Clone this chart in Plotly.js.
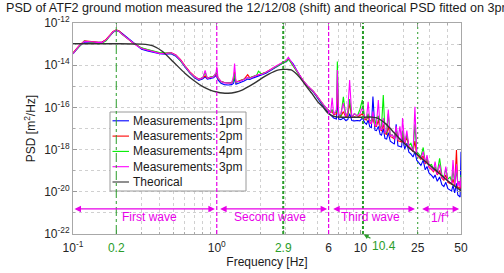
<!DOCTYPE html>
<html>
<head>
<meta charset="utf-8">
<script src="https://cdn.plot.ly/plotly-3.0.1.min.js"></script>
<style>html,body{margin:0;padding:0;background:#fff;}#chart{width:504px;height:273px;}</style>
</head>
<body>
<div id="chart"></div>
<script>
// Frequencies (Hz) shared by the four measurement series
const freqHz = [0.10,0.11,0.12,0.13,0.14,0.15,0.16,0.17,0.18,0.19,
0.20,0.21,0.22,0.24,0.26,0.28,0.30,0.33,0.36,0.40,
0.44,0.48,0.52,0.56,0.60,0.65,0.70,0.75,0.80,0.83,
0.86,0.90,0.95,0.99,1.00,1.02,1.07,1.13,1.20,1.27,
1.31,1.33,1.36,1.45,1.55,1.64,1.70,1.80,1.90,1.95,
2.05,2.20,2.35,2.50,2.65,2.80,2.95,3.05,3.15,3.25,
3.40,3.60,3.80,4.00,4.30,4.70,5.00,5.30,5.60,5.90,
6.20,6.35,6.50,6.80,6.90,7.05,7.30,7.60,7.90,8.15,
8.40,8.70,9.10,9.50,9.90,10.3,10.7,11.0,11.3,11.6,
11.9,12.2,12.6,12.9,13.3,13.7,14.0,14.4,14.8,15.2,
15.6,16.1,16.6,17.2,17.7,18.2,18.8,19.3,19.6,20.3,
21.0,21.7,22.4,23.2,23.9,24.6,25.4,26.3,27.3,28.2,
29.0,30.0,31.2,32.2,33.0,34.2,35.5,36.8,38.0,39.2,
40.5,42.0,43.0,44.0,45.2,46.5,47.5,48.5,49.3,50.0];

// log10 of PSD [m^2/Hz]
const psd1pmLog = [-13.46,-13.12,-12.90,-12.92,-12.92,-12.92,-12.90,-12.80,-12.62,-12.44,
-12.36,-12.40,-12.50,-12.72,-12.90,-13.10,-13.24,-13.32,-13.38,-13.46,
-13.48,-13.46,-13.58,-13.80,-14.08,-14.38,-14.60,-14.72,-14.64,-14.55,
-14.66,-14.62,-14.60,-14.48,-14.55,-14.70,-14.86,-14.92,-14.94,-14.92,
-14.85,-14.60,-14.90,-14.84,-14.75,-14.66,-14.68,-14.60,-14.54,-14.50,
-14.48,-14.38,-14.26,-14.14,-14.04,-13.96,-13.86,-13.84,-13.72,-13.78,
-13.94,-14.24,-14.50,-14.76,-15.02,-15.28,-15.54,-15.80,-16.02,-16.20,
-16.38,-16.45,-16.50,-16.55,-15.60,-16.55,-16.58,-16.50,-16.62,-16.58,
-16.30,-16.62,-16.64,-16.62,-16.64,-16.50,-16.72,-16.80,-16.60,-16.92,
-16.96,-15.49,-17.08,-17.10,-16.90,-17.28,-17.32,-17.00,-17.48,-17.50,
-17.20,-17.60,-17.66,-17.74,-16.80,-17.82,-17.85,-17.88,-17.40,-17.98,
-17.70,-18.12,-18.20,-18.35,-18.10,-18.50,-18.62,-18.75,-18.50,-18.96,
-18.80,-19.12,-19.22,-19.34,-19.20,-19.50,-19.30,-19.66,-19.75,-19.55,
-19.85,-19.92,-19.96,-19.70,-20.05,-19.60,-20.15,-20.20,-20.25,-18.10];

const psd2pmLog = [-13.42,-13.08,-12.84,-12.85,-12.89,-12.92,-12.90,-12.78,-12.58,-12.40,
-12.32,-12.38,-12.53,-12.76,-12.94,-13.07,-13.19,-13.27,-13.34,-13.42,
-13.44,-13.40,-13.52,-13.74,-14.02,-14.32,-14.52,-14.66,-14.60,-14.50,
-14.62,-14.56,-14.54,-14.42,-14.45,-14.60,-14.76,-14.82,-14.84,-14.83,
-14.68,-14.30,-14.80,-14.74,-14.66,-14.45,-14.60,-14.54,-14.48,-14.45,
-14.43,-14.33,-14.22,-14.10,-14.00,-13.92,-13.84,-13.80,-13.68,-13.82,
-13.96,-14.26,-14.50,-14.74,-15.00,-15.24,-15.48,-15.74,-15.94,-16.10,
-16.24,-16.20,-16.34,-16.30,-15.00,-16.40,-16.42,-16.20,-16.46,-16.40,
-15.80,-16.48,-16.45,-16.48,-16.40,-16.30,-16.56,-16.60,-16.40,-16.72,
-16.76,-16.50,-16.88,-16.90,-16.60,-17.06,-17.10,-16.80,-17.24,-17.28,
-16.90,-17.38,-17.42,-17.50,-17.10,-17.58,-17.60,-17.64,-17.20,-17.74,
-17.40,-17.88,-17.96,-18.10,-17.60,-18.24,-18.35,-18.46,-18.30,-18.68,
-18.50,-18.85,-18.95,-19.05,-18.90,-19.20,-19.00,-19.36,-19.45,-19.20,
-19.55,-19.60,-19.64,-19.40,-19.70,-18.02,-19.78,-19.80,-19.85,-19.50];

const psd4pmLog = [-13.44,-13.12,-12.86,-12.90,-12.95,-12.98,-12.95,-12.84,-12.62,-12.43,
-12.34,-12.40,-12.55,-12.76,-12.92,-13.06,-13.18,-13.26,-13.33,-13.40,
-13.43,-13.42,-13.54,-13.78,-14.05,-14.36,-14.56,-14.68,-14.58,-14.35,
-14.60,-14.57,-14.53,-14.38,-14.30,-14.62,-14.78,-14.82,-14.84,-14.84,
-14.72,-14.40,-14.82,-14.74,-14.67,-14.60,-14.60,-14.52,-14.46,-14.28,
-14.42,-14.34,-14.22,-14.12,-14.02,-13.94,-13.85,-13.82,-13.70,-13.84,
-13.98,-14.28,-14.52,-14.76,-15.00,-15.24,-15.50,-15.74,-15.94,-16.10,
-16.22,-16.10,-16.30,-16.20,-13.83,-16.35,-16.40,-15.50,-16.42,-16.30,
-15.60,-16.46,-16.30,-16.42,-16.10,-15.65,-16.50,-16.55,-16.30,-16.66,
-16.60,-16.40,-16.84,-16.50,-16.40,-17.00,-16.90,-15.41,-17.18,-17.20,
-16.30,-17.32,-17.30,-17.45,-17.00,-17.50,-17.50,-17.56,-17.10,-17.66,
-17.30,-17.80,-17.70,-18.02,-16.80,-18.15,-18.20,-18.35,-17.90,-18.60,
-18.40,-18.75,-18.70,-18.95,-18.80,-19.08,-18.41,-19.20,-19.30,-18.90,
-19.40,-19.30,-19.50,-19.00,-19.55,-19.00,-19.60,-19.50,-19.70,-19.20];

const psd3pmLog = [-13.45,-13.10,-12.87,-12.87,-12.90,-12.93,-12.92,-12.80,-12.60,-12.42,
-12.33,-12.41,-12.54,-12.75,-12.94,-13.09,-13.21,-13.28,-13.36,-13.44,
-13.45,-13.41,-13.53,-13.76,-14.04,-14.34,-14.55,-14.67,-14.60,-14.25,
-14.62,-14.58,-14.55,-14.35,-14.07,-14.60,-14.77,-14.84,-14.86,-14.85,
-14.50,-13.92,-14.80,-14.76,-14.68,-14.58,-14.62,-14.55,-14.50,-14.44,
-14.44,-14.34,-14.23,-14.10,-14.00,-13.90,-13.82,-13.76,-13.62,-13.78,
-13.94,-14.25,-14.50,-14.74,-14.98,-15.24,-15.48,-15.72,-15.92,-16.10,
-16.24,-15.55,-16.34,-16.10,-14.23,-16.38,-16.30,-15.80,-16.44,-16.20,
-14.70,-16.45,-16.30,-16.40,-16.30,-16.00,-16.52,-16.50,-15.73,-16.70,
-16.75,-16.20,-16.86,-16.85,-15.65,-17.05,-17.05,-16.50,-17.22,-17.10,
-16.10,-17.36,-17.30,-17.48,-16.90,-17.55,-16.90,-17.60,-16.50,-17.72,
-17.10,-17.86,-17.90,-18.08,-15.97,-18.22,-18.30,-18.40,-18.10,-18.65,
-18.26,-18.82,-18.90,-19.02,-18.57,-19.18,-18.70,-19.30,-19.40,-18.80,
-19.50,-19.55,-19.60,-18.50,-19.65,-18.70,-19.72,-19.50,-19.80,-19.30];

// Theoretical PSD fitted on 3pm
const theoFreqHz = [0.1,0.2,0.3,0.36,0.42,0.5,0.6,0.7,0.8,0.9,1.0,1.1,1.2,1.35,1.5,1.7,1.9,2.1,2.3,2.5,2.7,2.9,3.1,3.3,3.5,3.8,4.2,4.6,5.0,5.5,6.0,6.5,7.0,8.0,9.0,10.0,11.0,12.0,13.0,14.0,15.0,16.0,17.0,18.5,20.0,22.0,24.5,27.0,30.0,33.0,36.0,40.0,45.0,50.0];
const theoPsdLog = [-12.98,-12.98,-13.00,-13.08,-13.35,-13.85,-14.38,-14.75,-15.02,-15.18,-15.27,-15.32,-15.33,-15.28,-15.18,-14.98,-14.78,-14.58,-14.42,-14.30,-14.22,-14.20,-14.20,-14.22,-14.35,-14.60,-15.00,-15.35,-15.70,-16.00,-16.30,-16.42,-16.46,-16.47,-16.47,-16.47,-16.46,-16.46,-16.50,-16.62,-16.78,-16.98,-17.18,-17.45,-17.68,-17.95,-18.20,-18.45,-18.72,-18.95,-19.18,-19.45,-19.72,-19.95];

const seriesNames = ['Measurements: 1pm','Measurements: 2pm','Measurements: 4pm','Measurements: 3pm','Theorical'];
const seriesColors = ['#0000ff','#ff0000','#00ee00','#ff00ff','#333333'];

// Boundaries and annotations
const greenLinesHz = [0.2, 2.9, 10.4, 25];
const magentaLinesHz = [1, 6];
const waveStartHz = [0.1, 1.03, 6.3, 26.2];
const waveEndHz = [0.97, 5.86, 23.9, 48.5];
const waveLabelHz = [0.343, 2.345, 11.8, 35.6];
const waveLabels = ['First wave','Second wave','Third wave','1/f<sup>4</sup>'];
const waveArrowPsd = 1.55e-21;
const waveLabelPsd = 6.6e-22;

const xTickVals = [0.1, 0.2, 1, 2.9, 6, 10, 25, 50];
const xTickText = ['10<sup>-1</sup>','<span style="color:#2a9d2a">0.2</span>','10<sup>0</sup>','<span style="color:#2a9d2a">2.9</span>','6','10','25','50'];
const yTickExp = [-22,-20,-18,-16,-14,-12];

const toLin = a => a.map(v => Math.pow(10, v));
const measLogs = [psd1pmLog, psd2pmLog, psd4pmLog, psd3pmLog];

const traces = measLogs.map((arr, i) => ({
  x: freqHz, y: toLin(arr), type: 'scatter', mode: 'lines', name: seriesNames[i],
  line: {color: seriesColors[i], width: 1.1}, showlegend: false
}));
traces.push({x: theoFreqHz, y: toLin(theoPsdLog), type: 'scatter', mode: 'lines', name: seriesNames[4],
  line: {color: seriesColors[4], width: 1.4, shape: 'spline', smoothing: 0.6}, showlegend: false});

const FONT = 'Liberation Sans, Arial, sans-serif';
const GREEN = '#2a9d2a';
const MAG = '#e800e8';

const shapes = [];
const annotations = [];

// Legend box (manual, to get MATLAB-like compact spacing)
const plotL = 73, plotR = 461, plotT = 23, plotB = 234;
const px2x = p => (p - plotL) / (plotR - plotL);
const px2y = p => (plotB - p) / (plotB - plotT);
shapes.push({type: 'rect', xref: 'paper', yref: 'paper', x0: px2x(110), x1: px2x(246), y0: px2y(191), y1: px2y(112),
  fillcolor: '#ffffff', line: {color: '#9a9a9a', width: 1}, layer: 'above'});
seriesNames.forEach((nm, i) => {
  const yy = 120.8 + i * 15.3;
  shapes.push({type: 'line', xref: 'paper', yref: 'paper', x0: px2x(112.5), x1: px2x(129), y0: px2y(yy), y1: px2y(yy),
    line: {color: seriesColors[i], width: 1.1}, layer: 'above'});
  annotations.push({xref: 'paper', yref: 'paper', x: px2x(130.5), y: px2y(yy), xanchor: 'left', yanchor: 'middle',
    text: nm, showarrow: false, font: {family: FONT, size: 12, color: '#1a1a1a'}});
});

// vertical boundary lines
const greenStyles = [
  {width: 1, dash: 'dashdot'},
  {width: 2, dash: '3px,2px'},
  {width: 2, dash: '3px,2px'},
  {width: 1, dash: '2px,3px'}
];
greenLinesHz.forEach((f, i) => shapes.push({type: 'line', xref: 'x', yref: 'paper', x0: f, x1: f, y0: 0, y1: 1,
  line: {color: GREEN, width: greenStyles[i].width, dash: greenStyles[i].dash}, layer: 'above'}));
magentaLinesHz.forEach(f => shapes.push({type: 'line', xref: 'x', yref: 'paper', x0: f, x1: f, y0: 0, y1: 1,
  line: {color: MAG, width: 1.2, dash: '4px,2px'}, layer: 'above'}));

// wave double arrows and labels
waveStartHz.forEach((s, i) => {
  annotations.push({xref: 'x', yref: 'y', axref: 'x', ayref: 'y',
    x: Math.log10(waveEndHz[i]), y: Math.log10(waveArrowPsd), ax: Math.log10(s), ay: Math.log10(waveArrowPsd),
    text: '', showarrow: true, arrowhead: 2, arrowside: 'end+start', arrowsize: 1, arrowwidth: 1.3, arrowcolor: MAG,
    standoff: 0, startstandoff: 0});
  annotations.push({xref: 'x', yref: 'y', x: Math.log10(waveLabelHz[i]), y: Math.log10(waveLabelPsd),
    text: waveLabels[i], showarrow: false, font: {family: FONT, size: 12, color: MAG}});
});

// 10.4 Hz label with arrow
annotations.push({xref: 'x', yref: 'paper', x: Math.log10(10.4), y: 0, text: '10.4', showarrow: true,
  ax: 21, ay: 12, arrowhead: 2, arrowsize: 0.8, arrowwidth: 1.2, arrowcolor: GREEN, standoff: 1,
  font: {family: FONT, size: 12, color: GREEN}});

const layout = {
  width: 504, height: 273,
  margin: {l: 73, r: 43, t: 23, b: 39, pad: 0},
  paper_bgcolor: '#ffffff', plot_bgcolor: '#ffffff',
  font: {family: FONT, size: 12, color: '#262626'},
  title: {text: 'PSD of ATF2 ground motion measured the 12/12/08 (shift) and theorical PSD fitted on 3pm',
    xref: 'container', yref: 'container', x: 0.012, xanchor: 'left', y: 0.972, yanchor: 'middle',
    font: {family: FONT, size: 12.6, color: '#1a1a1a'}},
  showlegend: false,
  xaxis: {type: 'log', range: [-1, Math.log10(50)], tickmode: 'array', tickvals: xTickVals, ticktext: xTickText,
    ticks: 'inside', ticklen: 4, tickcolor: '#999', showline: true, linecolor: '#a8a8a8', linewidth: 1, mirror: 'ticks',
    showgrid: false, zeroline: false, ticklabelstandoff: 3, tickfont: {family: FONT, size: 12, color: '#262626'},
    minor: {tickmode: 'array', tickvals: [0.3,0.4,0.5,0.6,0.7,0.8,0.9,2,3,4,5,7,8,9,20,30,40],
      ticks: 'inside', ticklen: 2, tickcolor: '#aaa', showgrid: true, gridcolor: '#d0d0d0', griddash: 'dot', gridwidth: 1},
    title: {text: 'Frequency [Hz]', font: {family: FONT, size: 12, color: '#1a1a1a'}, standoff: 1}},
  yaxis: {type: 'log', range: [-22, -12], tickmode: 'array', tickvals: yTickExp.map(e => Math.pow(10, e)),
    ticktext: yTickExp.map(e => '10<sup>' + e + '</sup>'),
    ticks: 'inside', ticklen: 4, tickcolor: '#999', showline: true, linecolor: '#a8a8a8', linewidth: 1, mirror: 'ticks',
    showgrid: true, gridcolor: '#d0d0d0', griddash: 'dot', zeroline: false,
    tickfont: {family: FONT, size: 12, color: '#262626'},
    minor: {tickmode: 'array', tickvals: [-21,-19,-17,-15,-13].map(e => Math.pow(10, e)),
      ticks: 'inside', ticklen: 2, tickcolor: '#aaa', showgrid: true, gridcolor: '#d0d0d0', griddash: 'dot'},
    title: {text: 'PSD [m<sup>2</sup>/Hz]', font: {family: FONT, size: 12, color: '#1a1a1a'}, standoff: 5}},
  shapes: shapes,
  annotations: annotations
};

Plotly.newPlot('chart', traces, layout, {staticPlot: true, displayModeBar: false});
</script>
</body>
</html>
